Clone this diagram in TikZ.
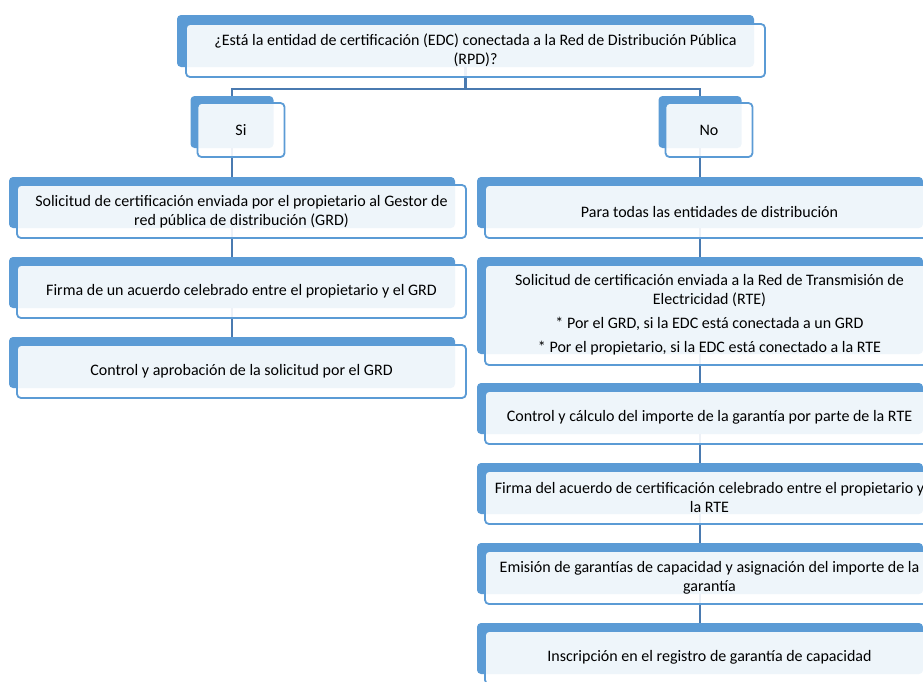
\documentclass[tikz,border=0pt]{standalone}
\usepackage{fontspec}
\setmainfont{Carlito}
\usetikzlibrary{positioning}

\definecolor{boxblue}{HTML}{5B9BD5}
\definecolor{linkblue}{HTML}{4A7AB0}

\begin{document}
\begin{tikzpicture}[
    x=1pt, y=-1pt,
    node distance=29pt,
    back/.style={rectangle, fill=boxblue, rounded corners=4pt, inner sep=0pt, outer sep=0pt},
    backwide/.style={back, minimum width=446pt, minimum height=51pt},
    front/.style={rectangle, draw=boxblue, line width=1.8pt, fill=white, fill opacity=0.9,
                  text opacity=1, text=black, rounded corners=4pt, inner sep=0pt, outer sep=0pt,
                  align=center, font=\fontsize{16}{19}\selectfont},
    frontwide/.style={front, minimum width=449pt, minimum height=53pt},
    link/.style={draw=linkblue, line width=2.2pt},
]
\useasboundingbox (0,0) rectangle (923,681);
\clip (0,0) rectangle (923,681);

% Back panels
\node[back, minimum width=577pt, minimum height=52pt, anchor=north west] (qb) at (177,15) {};
\node[back, minimum width=83pt, minimum height=52pt, anchor=north] (sib) at (232,96) {};
\node[back, minimum width=83pt, minimum height=52pt, anchor=north] (nob) at (700,96) {};

% Si branch
\node[backwide, below=of sib] (l1b) {};
\node[backwide, below=of l1b] (l2b) {};
\node[backwide, below=of l2b] (l3b) {};

% No branch
\node[backwide, below=of nob] (r1b) {};
\node[back, minimum width=446pt, minimum height=97pt, below=of r1b] (r2b) {};
\node[backwide, below=of r2b] (r3b) {};
\node[backwide, below=of r3b] (r4b) {};
\node[backwide, below=of r4b] (r5b) {};
\node[backwide, below=of r5b] (r6b) {};

% Connectors
\draw[link] (qb.south) -- ++(0,-22pt) coordinate (split) -| (sib.north);
\draw[link] (split) -| (nob.north);
\draw[link] (sib) -- (l1b);
\draw[link] (l1b) -- (l2b);
\draw[link] (l2b) -- (l3b);
\draw[link] (nob) -- (r1b);
\draw[link] (r1b) -- (r2b);
\draw[link] (r2b) -- (r3b);
\draw[link] (r3b) -- (r4b);
\draw[link] (r4b) -- (r5b);
\draw[link] (r5b) -- (r6b);

% Front panels with text
\node[front, minimum width=579pt, minimum height=53pt, below right=9pt and 9pt of qb.north west] (q)
    {¿Está la entidad de certificación (EDC) conectada a la Red de Distribución Pública\\(RPD)?};
\node[front, minimum width=87pt, minimum height=54pt, below right=7pt and 7pt of sib.north west] (si) {Si};
\node[front, minimum width=87pt, minimum height=54pt, below right=7pt and 7pt of nob.north west] (no) {No};

\node[frontwide, below right=8pt and 8pt of l1b.north west] (l1)
    {Solicitud de certificación enviada por el propietario al Gestor de\\red pública de distribución (GRD)};
\node[frontwide, below right=8pt and 8pt of l2b.north west] (l2)
    {Firma de un acuerdo celebrado entre el propietario y el GRD};
\node[frontwide, below right=8pt and 8pt of l3b.north west] (l3)
    {Control y aprobación de la solicitud por el GRD};

\node[frontwide, below right=8pt and 8pt of r1b.north west] (r1)
    {Para todas las entidades de distribución};
\node[front, minimum width=449pt, minimum height=100pt, below right=8pt and 8pt of r2b.north west] (r2)
    {Solicitud de certificación enviada a la Red de Transmisión de\\Electricidad (RTE)\\[5pt]
     {*} Por el GRD, si la EDC está conectada a un GRD\\[5pt]
     {*} Por el propietario, si la EDC está conectado a la RTE};
\node[frontwide, below right=8pt and 8pt of r3b.north west] (r3)
    {Control y cálculo del importe de la garantía por parte de la RTE};
\node[frontwide, below right=8pt and 8pt of r4b.north west] (r4)
    {Firma del acuerdo de certificación celebrado entre el propietario y\\la RTE};
\node[frontwide, below right=8pt and 8pt of r5b.north west] (r5)
    {Emisión de garantías de capacidad y asignación del importe de la\\garantía};
\node[frontwide, below right=8pt and 8pt of r6b.north west] (r6)
    {Inscripción en el registro de garantía de capacidad};

\end{tikzpicture}
\end{document}
